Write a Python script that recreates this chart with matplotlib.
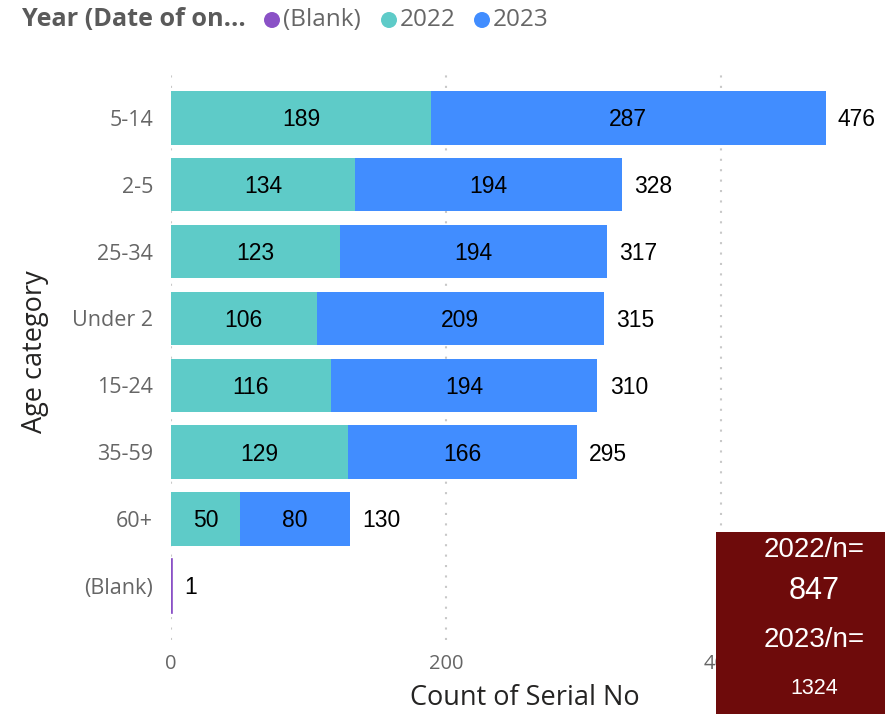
import matplotlib.pyplot as plt
from matplotlib.patches import Rectangle, Ellipse

categories = ["5-14", "2-5", "25-34", "Under 2", "15-24", "35-59", "60+", "(Blank)"]
blank_vals = [0, 0, 0, 0, 0, 0, 0, 1]
y2022 = [189, 134, 123, 106, 116, 129, 50, 0]
y2023 = [287, 194, 194, 209, 194, 166, 80, 0]
xticks = [0, 200, 400]

c_blank = "#8A51C6"
c22 = "#5ECBC8"
c23 = "#418DFF"

W, H = 885, 714
fig = plt.figure(figsize=(W / 100, H / 100), dpi=100)
left, right, top, bottom = 171, 880, 75, 640
ax = fig.add_axes([left / W, 1 - bottom / H, (right - left) / W, (bottom - top) / H])

px_per_unit = 275 / 200
ax.set_xlim(0, (right - left) / px_per_unit)
ypos = list(range(len(categories)))
ax.set_ylim(7.81, -0.64)

bh = 0.8
ax.barh(ypos, blank_vals, height=bh, color=c_blank, left=0,
        edgecolor=[c_blank if v > 0 else "none" for v in blank_vals], linewidth=1.2)
ax.barh(ypos, y2022, height=bh, color=c22, left=0)
ax.barh(ypos, y2023, height=bh, color=c23, left=y2022)

lab_font = dict(family=["Liberation Sans", "DejaVu Sans"], fontsize=16.5, color="black")
for i in ypos:
    a, b, bl = y2022[i], y2023[i], blank_vals[i]
    if a > 0:
        ax.text(a / 2, i + 0.03, str(a), ha="center", va="center", **lab_font)
    if b > 0:
        ax.text(a + b / 2, i + 0.03, str(b), ha="center", va="center", **lab_font)
    total = a + b + bl
    ax.text(total + 9, i + 0.03, str(total), ha="left", va="center", **lab_font)

ax.set_yticks(ypos)
ax.set_yticklabels(categories)
ax.set_xticks(xticks)
ax.tick_params(axis="both", length=0, labelcolor="#666666")
ax.tick_params(axis="y", pad=13, labelsize=15.5)
ax.tick_params(axis="x", pad=10, labelsize=14.5)
for lbl in ax.get_xticklabels() + ax.get_yticklabels():
    lbl.set_family(["Open Sans", "DejaVu Sans"])
for s in ax.spines.values():
    s.set_visible(False)
for x in xticks:
    ax.axvline(x, color="#C8C8C8", linestyle=(0, (1, 4)), linewidth=1.5, zorder=0)

lf = dict(fontsize=19.5, color="#252423", family=["Open Sans", "DejaVu Sans"], ha="center", va="center")
fig.text(525 / W, 1 - 698 / H, "Count of Serial No", **lf)
fig.text(35 / W, 1 - 352 / H, "Age category", rotation=90, **lf)

# legend
ly = 1 - 20 / H
fig.text(22 / W, ly, "Year (Date of on...", fontsize=18.2, fontweight="bold", color="#5a5a5a",
         family=["Open Sans", "DejaVu Sans"], va="center", ha="left")
leg_names = ["(Blank)", "2022", "2023"]
leg_cols = [c_blank, c22, c23]
leg_x = [272, 389, 482]
for name, col, xp in zip(leg_names, leg_cols, leg_x):
    fig.patches.append(Ellipse((xp / W, ly), 16 / W, 16 / H, transform=fig.transFigure,
                               facecolor=col, edgecolor="none"))
    fig.text((xp + 11) / W, ly, name, fontsize=17.5, color="#666666", va="center", ha="left",
             family=["Open Sans", "DejaVu Sans"])

# red box
box = Rectangle((716 / W, 0), (W - 716) / W, (714 - 532) / H, transform=fig.transFigure,
                facecolor="#6E0B0B", edgecolor="none", zorder=5)
fig.patches.append(box)
bx = 814 / W
tf = dict(color="white", ha="center", va="center", family=["Liberation Sans", "DejaVu Sans"], zorder=6)
fig.text(bx, 1 - 550 / H, "2022/n=", fontsize=20, **tf)
fig.text(bx, 1 - 591 / H, "847", fontsize=22, **tf)
fig.text(bx, 1 - 640 / H, "2023/n=", fontsize=20, **tf)
fig.text(bx, 1 - 688 / H, "1324", fontsize=15.5, **tf)

fig.savefig("out.png", dpi=100)
